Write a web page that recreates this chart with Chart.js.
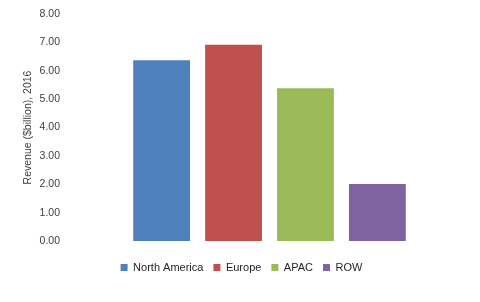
<!DOCTYPE html>
<html>
<head>
<meta charset="utf-8">
<script src="https://cdn.jsdelivr.net/npm/chart.js@4"></script>
<style>
html,body{margin:0;padding:0;background:#fff;}
#wrap{width:480px;height:302px;position:relative;}
</style>
</head>
<body>
<div id="wrap"><canvas id="c" width="480" height="302"></canvas></div>
<script>
const categories = ["2016"];
const seriesNames = ["North America", "Europe", "APAC", "ROW"];
const seriesValues = [6.37, 6.92, 5.38, 2.01];
const seriesColors = ["#4F81BD", "#C0504D", "#9BBB59", "#8064A2"];
const yTicks = [0, 1, 2, 3, 4, 5, 6, 7, 8];
const yTitle = "Revenue ($billion), 2016";

const datasets = seriesNames.map((n, i) => ({
  label: n,
  data: [seriesValues[i]],
  backgroundColor: seriesColors[i],
  borderColor: seriesColors[i],
  borderWidth: 0,
  barPercentage: 0.79,
  categoryPercentage: 0.70
}));

new Chart(document.getElementById('c'), {
  type: 'bar',
  data: { labels: categories, datasets },
  options: {
    responsive: false,
    animation: false,
    devicePixelRatio: 1,
    layout: { padding: { top: 14, right: 5, left: 8, bottom: 19 } },
    plugins: {
      legend: {
        position: 'bottom',
        labels: {
          boxWidth: 7, boxHeight: 7, padding: 10,
          color: '#262626',
          font: { family: 'Liberation Sans', size: 11 }
        }
      },
      tooltip: { enabled: false }
    },
    scales: {
      x: {
        display: true,
        ticks: { display: false },
        grid: { display: false, drawTicks: false },
        border: { display: false },
        afterFit: ax => { ax.height = 11; }
      },
      y: {
        min: 0, max: 8,
        afterBuildTicks: ax => { ax.ticks = yTicks.map(v => ({ value: v })); },
        afterFit: ax => { ax.width = 56; },
        grid: { display: false, drawTicks: false },
        border: { display: false },
        ticks: {
          color: '#404040',
          font: { family: 'Liberation Sans', size: 10.5 },
          padding: 4,
          callback: v => Number(v).toFixed(2)
        },
        title: {
          display: true, text: yTitle, color: '#404040',
          font: { family: 'Liberation Sans', size: 10.5 },
          padding: { top: 14, bottom: 4 }
        }
      }
    }
  }
});
</script>
</body>
</html>
